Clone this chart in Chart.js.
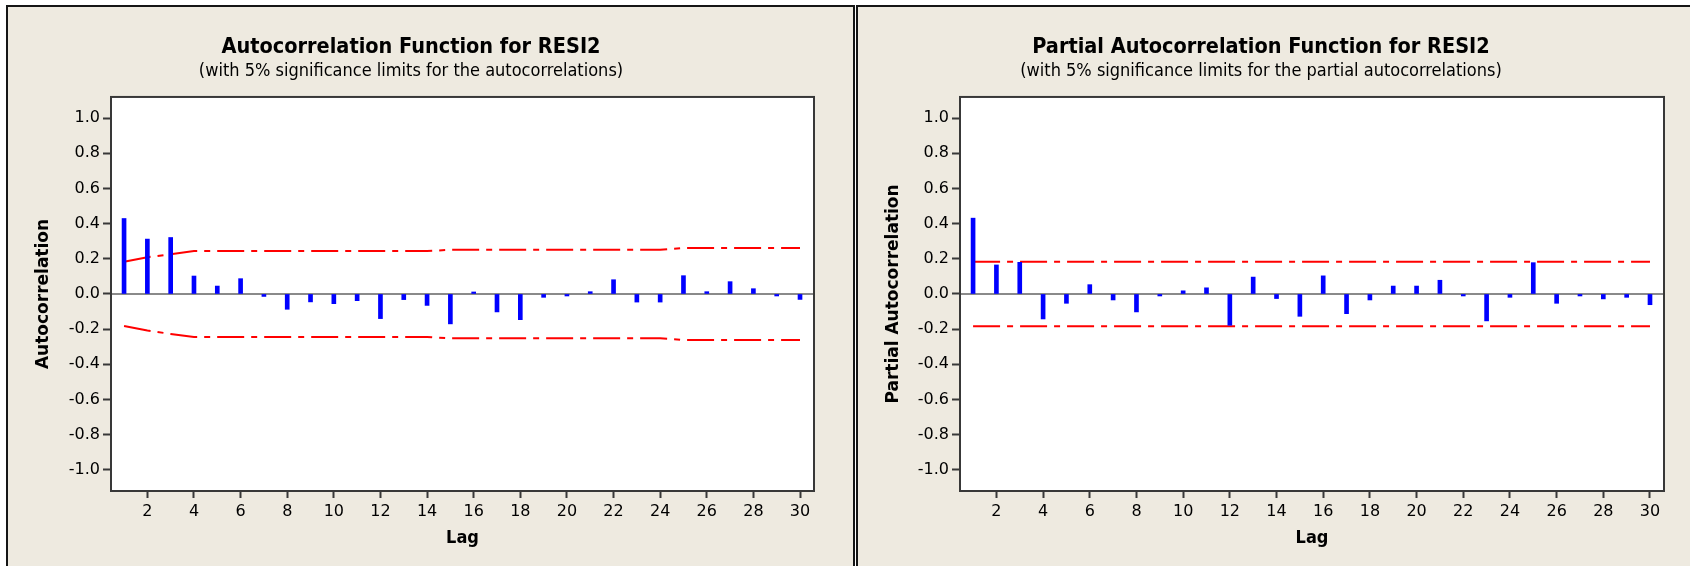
<!DOCTYPE html>
<html>
<head>
<meta charset="utf-8">
<script src="https://cdn.jsdelivr.net/npm/chart.js@4.4.1/dist/chart.umd.min.js"></script>
<style>
  html, body { margin: 0; padding: 0; background: #ffffff; width: 1690px; height: 566px; overflow: hidden; }
  .panel { position: absolute; top: 5px; width: 845px; height: 600px; background: #EEEAE0;
           border-top: 2px solid #151515; border-left: 2px solid #151515; }
  #p1 { left: 6px; border-right: 2px solid #151515; }
  #p2 { left: 856px; }
  canvas { position: absolute; left: 0; top: 0; }
</style>
</head>
<body>
<div class="panel" id="p1"><canvas id="acfChart" width="845" height="559"></canvas></div>
<div class="panel" id="p2"><canvas id="pacfChart" width="845" height="559"></canvas></div>
<script>
// Lags 1..30
const lags = [1, 2, 3, 4, 5, 6, 7, 8, 9, 10, 11, 12, 13, 14, 15,
              16, 17, 18, 19, 20, 21, 22, 23, 24, 25, 26, 27, 28, 29, 30];

// Autocorrelations of RESI2
const acf = [0.429, 0.312, 0.321, 0.102, 0.045, 0.087, -0.014, -0.087, -0.045, -0.055,
             -0.038, -0.140, -0.032, -0.065, -0.170, 0.008, -0.102, -0.146, -0.019, -0.005,
             0.013, 0.081, -0.046, -0.046, 0.104, 0.013, 0.070, 0.030, -0.011, -0.031];

// 5% significance limits for the autocorrelations
const acfUpper = [0.183, 0.209, 0.226, 0.244, 0.244, 0.244, 0.244, 0.244, 0.244, 0.244,
                  0.244, 0.244, 0.244, 0.244, 0.251, 0.251, 0.251, 0.251, 0.251, 0.251,
                  0.251, 0.251, 0.251, 0.251, 0.262, 0.262, 0.262, 0.262, 0.262, 0.262];
const acfLower = [-0.182, -0.208, -0.227, -0.244, -0.244, -0.244, -0.244, -0.244, -0.244, -0.244,
                  -0.244, -0.244, -0.244, -0.244, -0.252, -0.252, -0.252, -0.252, -0.252, -0.252,
                  -0.252, -0.252, -0.252, -0.252, -0.261, -0.261, -0.261, -0.261, -0.261, -0.261];

// Partial autocorrelations of RESI2
const pacf = [0.431, 0.165, 0.180, -0.142, -0.053, 0.053, -0.034, -0.102, -0.007, 0.018,
              0.035, -0.178, 0.096, -0.026, -0.127, 0.103, -0.112, -0.034, 0.045, 0.045,
              0.078, -0.006, -0.153, -0.019, 0.178, -0.053, -0.005, -0.028, -0.019, -0.061];

// 5% significance limits for the partial autocorrelations
const pacfUpper = [0.183, 0.183, 0.183, 0.183, 0.183, 0.183, 0.183, 0.183, 0.183, 0.183,
                   0.183, 0.183, 0.183, 0.183, 0.183, 0.183, 0.183, 0.183, 0.183, 0.183,
                   0.183, 0.183, 0.183, 0.183, 0.183, 0.183, 0.183, 0.183, 0.183, 0.183];
const pacfLower = [-0.183, -0.183, -0.183, -0.183, -0.183, -0.183, -0.183, -0.183, -0.183, -0.183,
                   -0.183, -0.183, -0.183, -0.183, -0.183, -0.183, -0.183, -0.183, -0.183, -0.183,
                   -0.183, -0.183, -0.183, -0.183, -0.183, -0.183, -0.183, -0.183, -0.183, -0.183];

// Axis ticks
const lagTicks = [2, 4, 6, 8, 10, 12, 14, 16, 18, 20, 22, 24, 26, 28, 30];
const corrTicks = [-1.0, -0.8, -0.6, -0.4, -0.2, 0.0, 0.2, 0.4, 0.6, 0.8, 1.0];

const FONT = 'DejaVu Sans';
const NARROW = "'DejaVu Sans Condensed', 'DejaVu Sans'";

// White plotting region, zero reference line and frame around it
const plotFrame = {
  id: 'plotFrame',
  beforeDraw(chart) {
    const { ctx, chartArea: a } = chart;
    ctx.save();
    ctx.fillStyle = '#ffffff';
    ctx.fillRect(a.left, a.top, a.right - a.left, a.bottom - a.top);
    ctx.restore();
  },
  beforeDatasetsDraw(chart) {
    const { ctx, chartArea: a, scales } = chart;
    const y0 = scales.y.getPixelForValue(0);
    ctx.save();
    ctx.strokeStyle = '#8a8a8a';
    ctx.lineWidth = 2;
    ctx.beginPath();
    ctx.moveTo(a.left, y0);
    ctx.lineTo(a.right, y0);
    ctx.stroke();
    ctx.restore();
  },
  afterDatasetsDraw(chart) {
    const { ctx, chartArea: a } = chart;
    ctx.save();
    ctx.strokeStyle = '#383838';
    ctx.lineWidth = 2;
    ctx.strokeRect(a.left, a.top, a.right - a.left, a.bottom - a.top);
    ctx.restore();
  }
};

function points(values) {
  return lags.map((lag, i) => ({ x: lag, y: values[i] }));
}

function limitLine(values) {
  return {
    type: 'line',
    data: points(values),
    borderColor: '#ff0000',
    borderWidth: 2,
    borderDash: [27, 7, 6, 7],
    pointRadius: 0,
    tension: 0,
    fill: false
  };
}

function makeChart(canvasId, values, upper, lower, title, subtitle, yTitle, yAxisWidth) {
  return new Chart(document.getElementById(canvasId), {
    type: 'bar',
    data: {
      datasets: [
        {
          type: 'bar',
          data: points(values),
          backgroundColor: '#0000ff',
          borderWidth: 0,
          barThickness: 4,
          minBarLength: 2
        },
        limitLine(upper),
        limitLine(lower)
      ]
    },
    options: {
      responsive: false,
      animation: false,
      devicePixelRatio: 1,
      layout: { padding: { left: 0, right: 39, top: 0, bottom: 0 } },
      plugins: {
        legend: { display: false },
        tooltip: { enabled: false },
        title: {
          display: true,
          text: title,
          color: '#000000',
          font: { family: NARROW, size: 21.5, weight: 'bold', lineHeight: 1.1 },
          padding: { top: 29, bottom: 2 }
        },
        subtitle: {
          display: true,
          text: subtitle,
          color: '#000000',
          font: { family: NARROW, size: 18, weight: 'normal', lineHeight: 1.1 },
          padding: { top: 0, bottom: 15.5 }
        }
      },
      scales: {
        x: {
          type: 'linear',
          min: 0.44,
          max: 30.6,
          offset: false,
          afterBuildTicks(scale) { scale.ticks = lagTicks.map(v => ({ value: v })); },
          afterFit(scale) { scale.height = 75; },
          ticks: {
            color: '#000000',
            font: { family: FONT, size: 16 },
            padding: 4,
            maxRotation: 0,
            autoSkip: false,
            callback: v => String(v)
          },
          grid: {
            offset: false,
            drawOnChartArea: false,
            drawTicks: true,
            tickLength: 7,
            tickWidth: 2,
            tickColor: '#383838'
          },
          border: { display: false },
          title: {
            display: true,
            text: 'Lag',
            color: '#000000',
            font: { family: NARROW, size: 18, weight: 'bold' },
            padding: { top: 0, bottom: 17 }
          }
        },
        y: {
          type: 'linear',
          min: -1.12,
          max: 1.12,
          afterBuildTicks(scale) { scale.ticks = corrTicks.map(v => ({ value: v })); },
          afterFit(scale) { scale.width = yAxisWidth; },
          ticks: {
            color: '#000000',
            font: { family: FONT, size: 16 },
            padding: 3,
            autoSkip: false,
            callback: v => v.toFixed(1)
          },
          grid: {
            drawOnChartArea: false,
            drawTicks: true,
            tickLength: 8,
            tickWidth: 2,
            tickColor: '#383838'
          },
          border: { display: false },
          title: {
            display: true,
            text: yTitle,
            color: '#000000',
            font: { family: FONT, size: 17, weight: 'bold' },
            padding: { top: 25, bottom: 0 }
          }
        }
      }
    },
    plugins: [plotFrame]
  });
}

makeChart('acfChart', acf, acfUpper, acfLower,
  'Autocorrelation Function for RESI2',
  '(with 5% significance limits for the autocorrelations)',
  'Autocorrelation', 103);

makeChart('pacfChart', pacf, pacfUpper, pacfLower,
  'Partial Autocorrelation Function for RESI2',
  '(with 5% significance limits for the partial autocorrelations)',
  'Partial Autocorrelation', 102);
</script>
</body>
</html>
